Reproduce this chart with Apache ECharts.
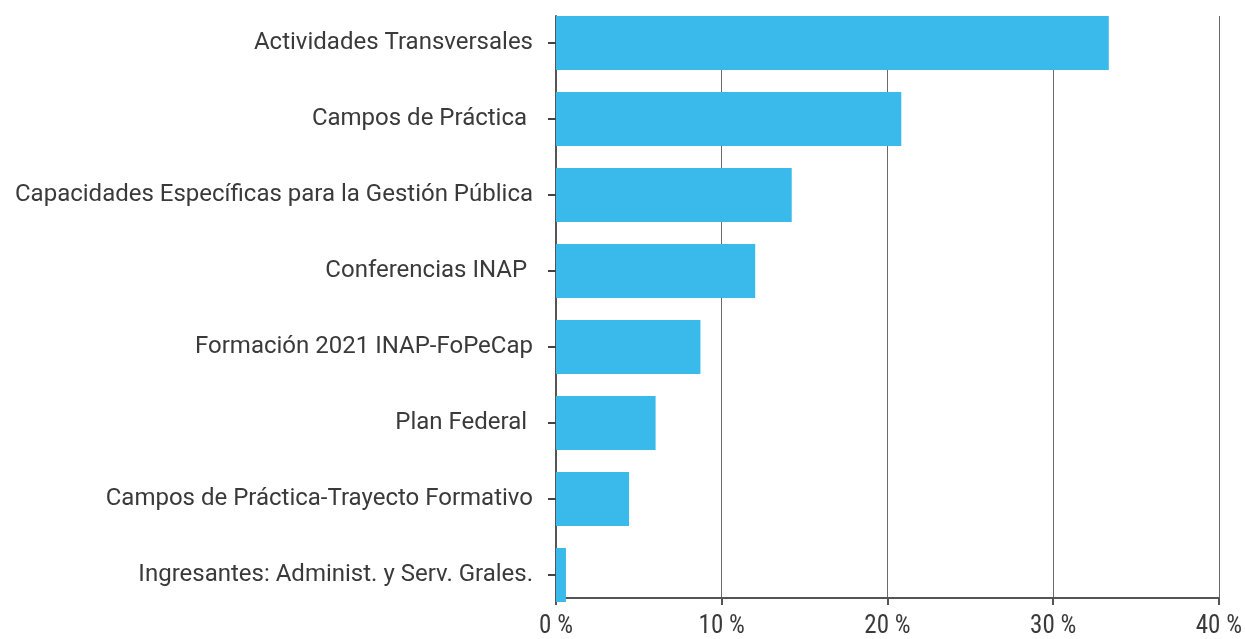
<!DOCTYPE html>
<html>
<head>
<meta charset="utf-8">
<script src="https://cdn.jsdelivr.net/npm/echarts@6/dist/echarts.min.js"></script>
<style>
  html, body { margin: 0; padding: 0; background: #fff; }
  #chart { width: 1245px; height: 639px; }
</style>
</head>
<body>
<div id="chart"></div>
<script>
// categories from top to bottom
const categories = [
  "Actividades Transversales",
  "Campos de Práctica ",
  "Capacidades Específicas para la Gestión Pública",
  "Conferencias INAP ",
  "Formación 2021 INAP-FoPeCap",
  "Plan Federal ",
  "Campos de Práctica-Trayecto Formativo",
  "Ingresantes: Administ. y Serv. Grales."
];
const values = [33.3, 20.8, 14.2, 12.0, 8.7, 6.0, 4.4, 0.6];
const xTicks = [0, 10, 20, 30, 40];

const chart = echarts.init(document.getElementById("chart"));
chart.setOption({
  animation: false,
  // grid 0 = axis frame, grid 1 = bars (bars touch top and bottom of frame)
  grid: [
    { left: 556, right: 25, top: 16, bottom: 37 },
    { left: 556, right: 25, top: 5, bottom: 26 },
  ],
  xAxis: [
    {
      gridIndex: 0,
      type: "value",
      min: xTicks[0],
      max: xTicks[xTicks.length - 1],
      interval: 10,
      axisLine: { show: true, lineStyle: { color: "#555", width: 2 } },
      axisTick: { show: true, length: 7, lineStyle: { color: "#555", width: 2 } },
      axisLabel: {
        margin: 16,
        fontFamily: "'Roboto Condensed', 'DejaVu Sans Condensed', Roboto",
        fontSize: 25,
        color: "#3a3a3a",
        formatter: (v) => v + " %",
      },
      splitLine: { show: true, lineStyle: { color: "#6a6a6a", width: 1 } },
    },
    {
      gridIndex: 1,
      type: "value",
      min: xTicks[0],
      max: xTicks[xTicks.length - 1],
      show: false,
    },
  ],
  yAxis: [
    {
      gridIndex: 0,
      type: "category",
      data: categories,
      axisLine: { show: true, lineStyle: { color: "#555", width: 2 } },
      axisTick: { show: false },
      axisLabel: { show: false },
    },
    {
      gridIndex: 1,
      type: "category",
      inverse: true,
      data: categories,
      axisLine: { show: false },
      axisTick: { show: true, alignWithLabel: true, length: 8, lineStyle: { color: "#444", width: 2 } },
      axisLabel: {
        margin: 23,
        fontFamily: "Roboto",
        fontSize: 24,
        color: "#3a3a3a",
      },
    },
  ],
  series: [
    {
      type: "bar",
      xAxisIndex: 1,
      yAxisIndex: 1,
      data: values,
      barWidth: 54,
      itemStyle: { color: "#39BAEB" },
    },
  ],
});
</script>
</body>
</html>
